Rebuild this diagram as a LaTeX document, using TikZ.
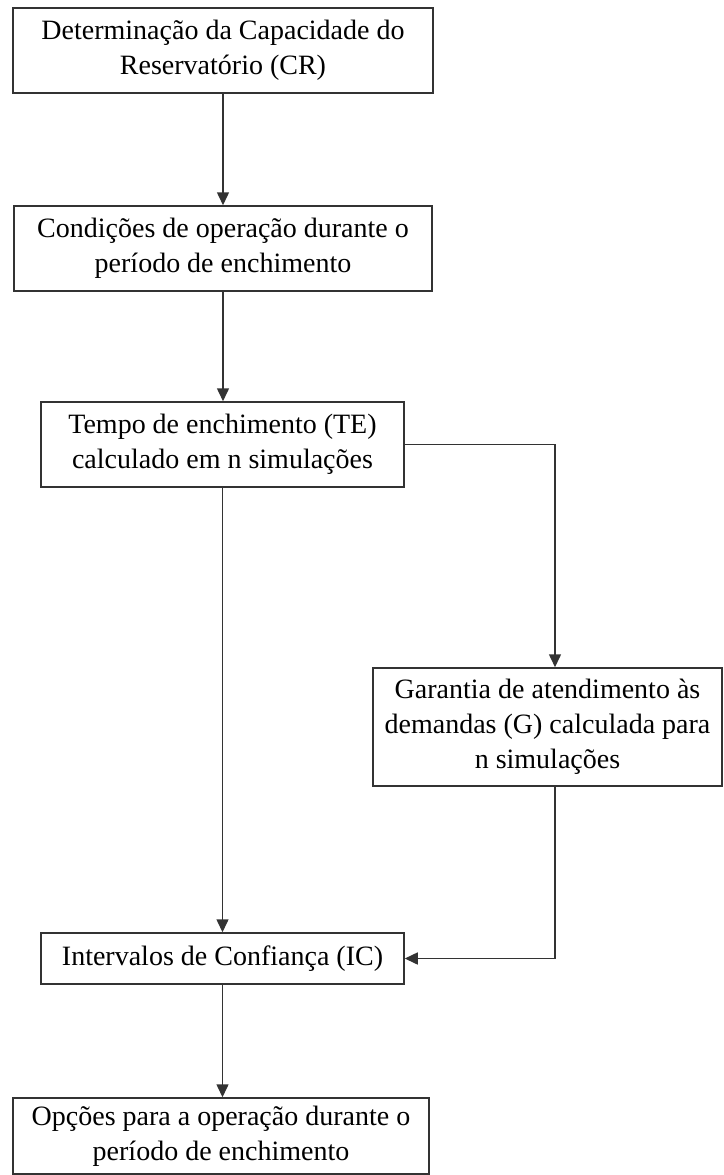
\documentclass[tikz,border=0pt]{standalone}
\usepackage{fontspec}
\setmainfont{Liberation Serif}
\usetikzlibrary{arrows.meta}
\begin{document}
\begin{tikzpicture}[x=1pt,y=-1pt,
  box/.style={draw=black!80, line width=1.5pt, inner sep=0pt, align=center,
    font=\fontsize{28}{35}\selectfont},
  conn/.style={draw=black!80, line width=1.5pt, -{Triangle[length=13pt,width=12pt]}},
  plain/.style={draw=black!80, line width=1.5pt}
]
\useasboundingbox (0,0) rectangle (723,1175);
\node[box, minimum width=420, minimum height=85] (cr) at (223,50.5)
  {Determinação da Capacidade do\\Reservatório (CR)};
\node[box, minimum width=418, minimum height=85] (cond) at (223,248.5)
  {Condições de operação durante o\\período de enchimento};
\node[box, minimum width=363, minimum height=85] (te) at (222.5,444.5)
  {Tempo de enchimento (TE)\\calculado em n simulações};
\node[box, minimum width=349, minimum height=118] (g) at (547.5,727)
  {Garantia de atendimento às\\demandas (G) calculada para\\n simulações};
\node[box, minimum width=363, minimum height=51] (ic) at (222.5,958.5)
  {Intervalos de Confiança (IC)};
\node[box, minimum width=416, minimum height=76] (op) at (221,1136)
  {Opções para a operação durante o\\período de enchimento};
\draw[conn] (cr.south -| cond.north) -- (cond.north);
\draw[conn] (cond.south) -- (cond.south |- te.north);
\draw[conn] (te.east) -| ([xshift=7.5pt]g.north);
\draw[conn] (te.south) -- (ic.north);
\draw[conn] ([xshift=7.5pt]g.south) |- (ic.east);
\draw[conn] (ic.south) -- (ic.south |- op.north);
\end{tikzpicture}
\end{document}
